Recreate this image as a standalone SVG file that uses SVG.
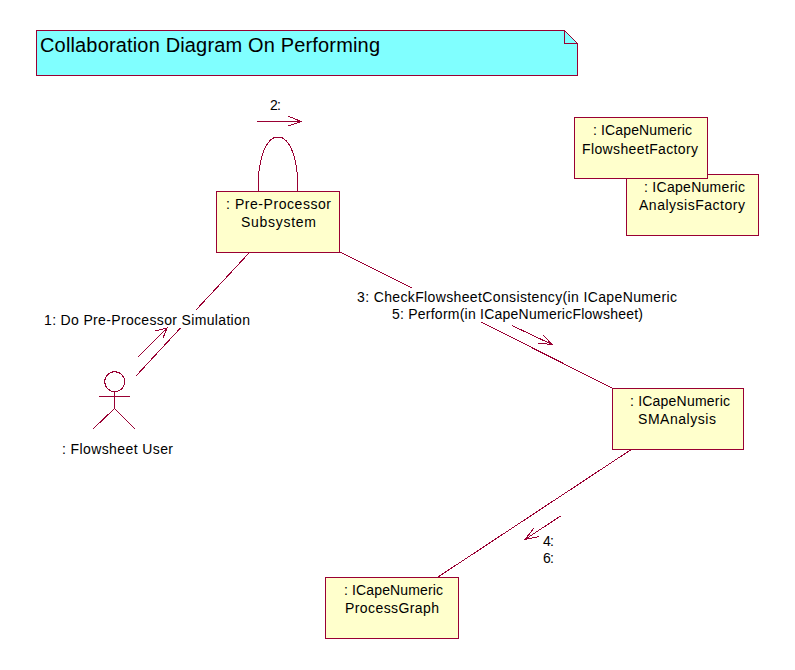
<svg xmlns="http://www.w3.org/2000/svg" width="795" height="670" viewBox="0 0 795 670">
<style>
.s{fill:none;stroke:#990033;stroke-width:1;shape-rendering:crispEdges}
.b{fill:#FFFFCC;stroke:#990033;stroke-width:1;shape-rendering:crispEdges}
.n{fill:#80FFFF;stroke:#990033;stroke-width:1;shape-rendering:crispEdges}
text{font-family:"Liberation Sans",Arial,sans-serif;font-size:14px;fill:#000}
.t{font-size:20px}
</style>
<rect width="795" height="670" fill="#fff"/>
<g id="note">
<path class="n" d="M36.5 30.5H564.5L577.5 43.5V75.5H36.5Z"/>
<path class="s" d="M564.5 30.5V43.5H577.5"/>
<text class="t" x="40" y="52" textLength="340" lengthAdjust="spacing">Collaboration Diagram On Performing</text>
</g>
<g id="connectors">
<path class="s" d="M135.5 376.5L180.5 328M196 310L249 253"/>
<path class="s" d="M340 252L412 288M481 322L612 388"/>
<path class="s" d="M632 449L438 577"/>
<path class="s" d="M258.5 191C257 160 266 137 278 137C290 137 299 160 297.5 191"/>
<path class="s" d="M257 121.5H301M288 116L301 121.5L288 126"/>
<path class="s" d="M138 357L167 328M155.5 331L167 328L163 338"/>
<path class="s" d="M512 325.5L552 344.5M543 335L552 344.5L538 343"/>
<path class="s" d="M560.5 516L525 539.5M534 528L525 539.5L539 536.5"/>
<text x="270" y="110" textLength="11">2:</text>
<text x="44" y="325" textLength="206">1: Do Pre-Processor Simulation</text>
<text x="357" y="302" textLength="320">3: CheckFlowsheetConsistency(in ICapeNumeric</text>
<text x="392" y="319" textLength="251">5: Perform(in ICapeNumericFlowsheet)</text>
<text x="543" y="546" textLength="11">4:</text>
<text x="543" y="563" textLength="11">6:</text>
</g>
<g id="preprocessor">
<rect class="b" x="216.5" y="191.5" width="123" height="61"/>
<text x="226" y="209" textLength="105">: Pre-Processor</text>
<text x="241" y="227" textLength="75">Subsystem</text>
</g>
<g id="analysisfactory">
<rect class="b" x="626.5" y="174.5" width="132" height="61"/>
<text x="644" y="192" textLength="101">: ICapeNumeric</text>
<text x="639" y="210" textLength="106">AnalysisFactory</text>
</g>
<g id="flowsheetfactory">
<rect class="b" x="574.5" y="117.5" width="133" height="61"/>
<text x="593" y="135" textLength="99">: ICapeNumeric</text>
<text x="582" y="154" textLength="116">FlowsheetFactory</text>
</g>
<g id="smanalysis">
<rect class="b" x="612.5" y="388.5" width="131" height="61"/>
<text x="630" y="406" textLength="100">: ICapeNumeric</text>
<text x="638" y="424" textLength="78">SMAnalysis</text>
</g>
<g id="processgraph">
<rect class="b" x="325.5" y="577.5" width="133" height="61"/>
<text x="344" y="595" textLength="99">: ICapeNumeric</text>
<text x="345" y="613" textLength="94">ProcessGraph</text>
</g>
<g id="user">
<circle class="s" cx="114.7" cy="381.7" r="10"/>
<path class="s" d="M114.5 391.5V408.5M99 396.5H130M93 429L114.5 408.5L135 429"/>
<text x="62" y="454" textLength="111">: Flowsheet User</text>
</g>
</svg>
